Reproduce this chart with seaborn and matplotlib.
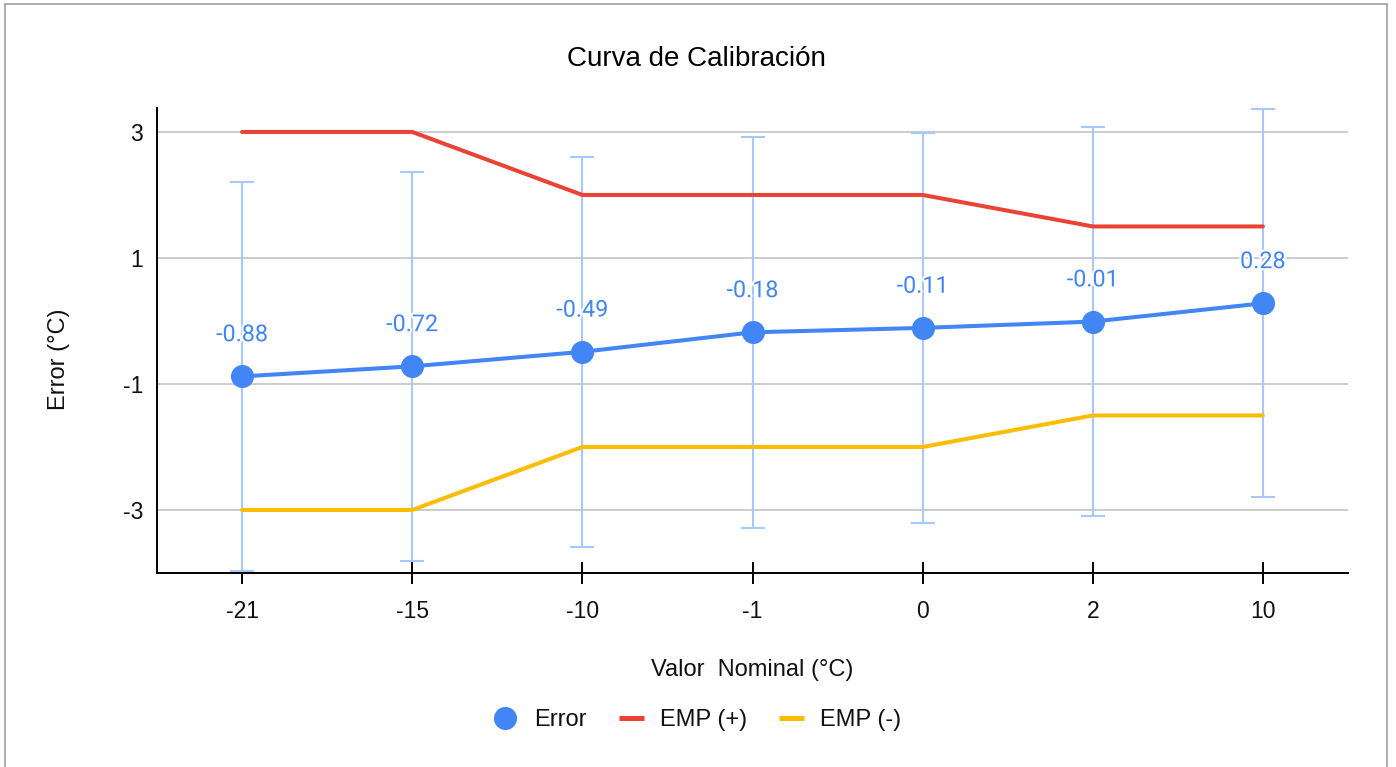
import matplotlib
matplotlib.use("Agg")
import matplotlib.pyplot as plt
import matplotlib.patheffects as pe
from matplotlib.lines import Line2D
import seaborn as sns
import pandas as pd

# ---- data ----
nominal = ["-21", "-15", "-10", "-1", "0", "2", "10"]
error = [-0.88, -0.72, -0.49, -0.18, -0.11, -0.01, 0.28]
uncert = [3.09, 3.09, 3.09, 3.10, 3.09, 3.09, 3.08]
emp_pos = [3, 3, 2, 2, 2, 1.5, 1.5]
emp_neg = [-3, -3, -2, -2, -2, -1.5, -1.5]
yticks = [-3, -1, 1, 3]
error_labels = ["-0.88", "-0.72", "-0.49", "-0.18", "-0.11", "-0.01", "0.28"]

df = pd.DataFrame({"nominal": nominal, "error": error,
                   "emp_pos": emp_pos, "emp_neg": emp_neg})

BLUE = "#4285F4"
RED = "#EA4335"
YELLOW = "#FBBC04"
EBAR = "#A8C7FA"

sns.set_style("white")
plt.rcParams['font.family'] = ['Liberation Sans', 'DejaVu Sans']

W, H = 1396, 767
fig = plt.figure(figsize=(W / 100, H / 100), dpi=100)
ax = fig.add_axes([157 / W, 1 - 573 / H, (1348 - 157) / W, (573 - 108) / H])

# error bars (behind)
ax.errorbar(nominal, error, yerr=uncert, fmt="none", ecolor=EBAR,
            elinewidth=1.5, capsize=8.6, capthick=1.5, zorder=2)

sns.lineplot(data=df, x="nominal", y="emp_pos", color=RED, linewidth=2.9,
             sort=False, ax=ax, zorder=3)
sns.lineplot(data=df, x="nominal", y="emp_neg", color=YELLOW, linewidth=2.9,
             sort=False, ax=ax, zorder=3)
sns.lineplot(data=df, x="nominal", y="error", color=BLUE, linewidth=2.9,
             marker="o", markersize=16.6, markeredgewidth=0,
             sort=False, ax=ax, zorder=4)

for i, (v, t) in enumerate(zip(error, error_labels)):
    ax.annotate(t, (i, v), xytext=(0, 30), textcoords="offset points",
                ha="center", va="center", color=BLUE, fontsize=16.8,
                family=["Roboto", "DejaVu Sans"], zorder=5,
                path_effects=[pe.withStroke(linewidth=3, foreground="white")])

ax.set_xlim(-0.5, 6.5)
ax.set_ylim(-4, 3.38)
ax.set_yticks(yticks)
ax.set_yticklabels([str(t) for t in yticks])
ax.yaxis.grid(True, color="#CCCCCC", linewidth=1.4, zorder=0)
ax.xaxis.grid(False)
ax.set_axisbelow(True)

for s in ["top", "right"]:
    ax.spines[s].set_visible(False)
for s in ["left", "bottom"]:
    ax.spines[s].set_color("black")
    ax.spines[s].set_linewidth(1.4)

ax.tick_params(axis="x", direction="inout", length=16.5, width=1.4,
               color="black", labelsize=16.5, labelcolor="#111111", pad=11.5,
               bottom=True)
ax.tick_params(axis="y", length=0, labelsize=16.5, labelcolor="#111111", pad=10)

ax.set_xlabel("Valor  Nominal (°C)", fontsize=17, color="#111111")
ax.xaxis.label.set_va("center")
ax.xaxis.set_label_coords(0.5, (573 - 670) / 465)
ax.set_ylabel("Error (°C)", fontsize=17, color="#111111")
ax.yaxis.label.set_va("center")
ax.yaxis.set_label_coords((59 - 157) / 1191, (573 - 359) / 465)

fig.text(696 / W, 1 - 59 / H, "Curva de Calibración", ha="center",
         va="center", fontsize=20, color="#000000")

handles = [
    Line2D([], [], marker="o", linestyle="none", markersize=16.6,
           markeredgewidth=0, color=BLUE),
    Line2D([], [], color=RED, linewidth=3.6, solid_capstyle="butt"),
    Line2D([], [], color=YELLOW, linewidth=3.6, solid_capstyle="butt"),
]
fig.legend(handles, ["Error", "EMP (+)", "EMP (-)"], loc="center",
           bbox_to_anchor=(697 / W, 1 - 720 / H), ncol=3, frameon=False,
           fontsize=17, handlelength=1.06, handletextpad=0.68,
           columnspacing=1.36, labelcolor="#111111")

# outer border (left, top, right)
bc = "#A0A0A0"
fig.add_artist(Line2D([5 / W, 5 / W], [0, 1 - 4 / H], transform=fig.transFigure,
                      color=bc, linewidth=1.2))
fig.add_artist(Line2D([5 / W, 1387 / W], [1 - 4 / H, 1 - 4 / H],
                      transform=fig.transFigure, color=bc, linewidth=1.2))
fig.add_artist(Line2D([1387 / W, 1387 / W], [0, 1 - 4 / H],
                      transform=fig.transFigure, color=bc, linewidth=1.2))

fig.savefig("out.png", dpi=100, facecolor="white")
